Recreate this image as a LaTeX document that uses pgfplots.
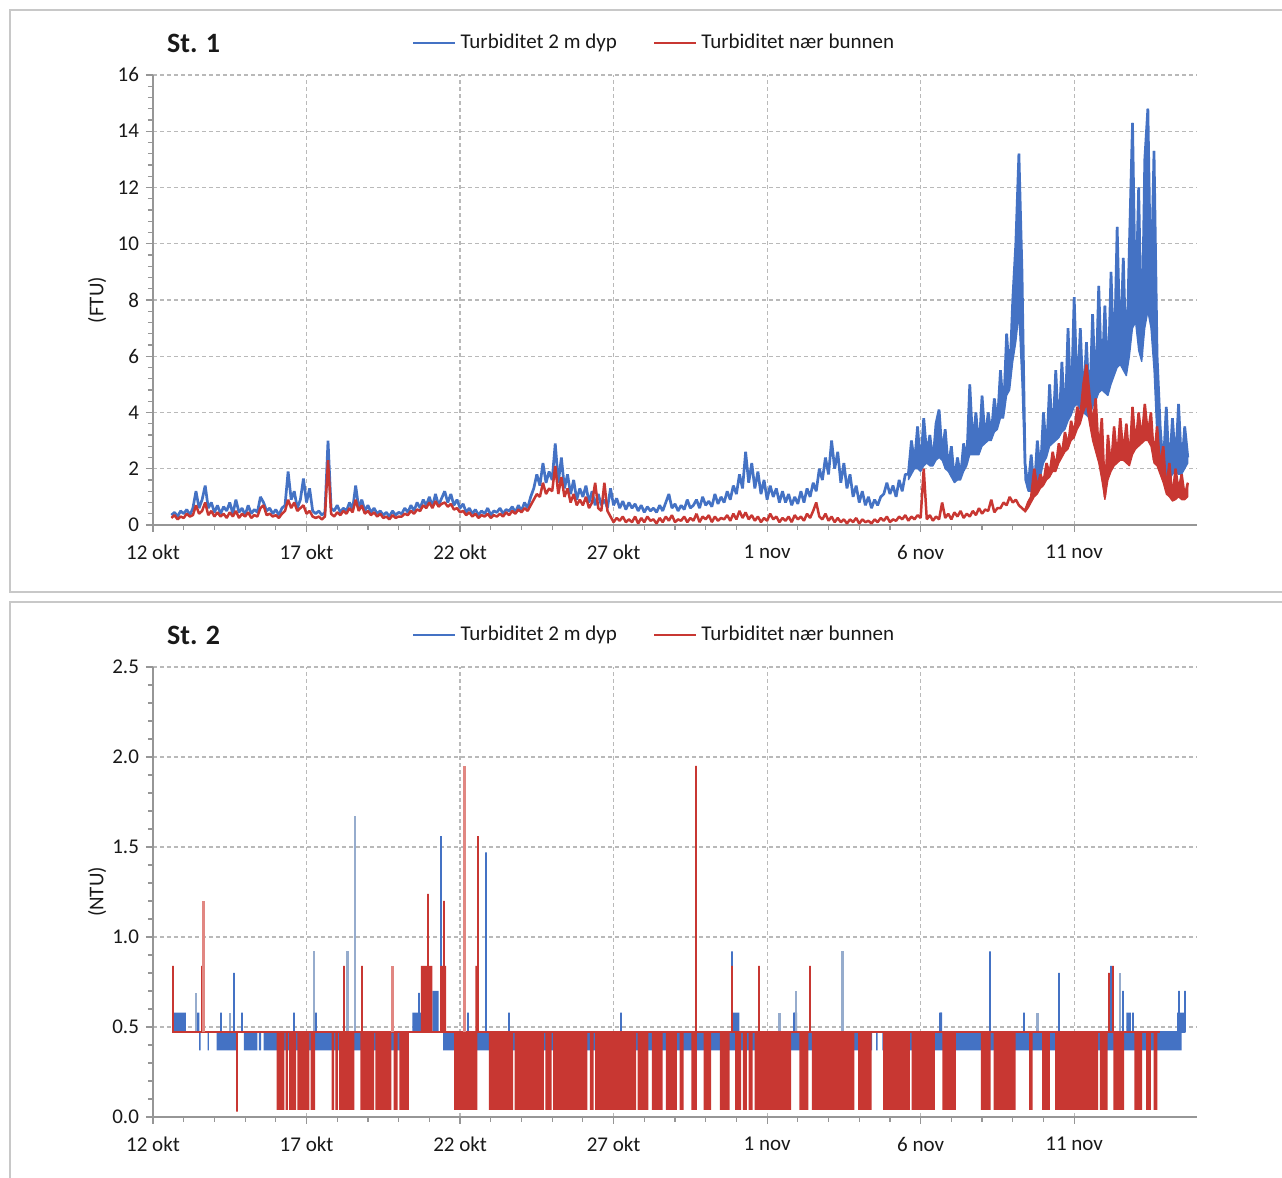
\documentclass[border=0pt]{standalone}
\usepackage{fontspec}
\setmainfont{Carlito}
\usepackage{pgfplots}
\usepackage{pgfplotstable}
\pgfplotsset{compat=1.18}

\definecolor{tblue}{RGB}{68,114,196}
\definecolor{tred}{RGB}{200,55,50}
\definecolor{paleblue}{RGB}{150,172,205}
\definecolor{palered}{RGB}{225,135,130}
\definecolor{framegray}{RGB}{200,200,200}
\definecolor{gridgray}{RGB}{185,185,185}
\definecolor{axisgray}{RGB}{150,150,150}
\definecolor{textgray}{RGB}{25,25,25}

% St. 1: time in days after 12 okt, turbidity at 2 m (B) and near the bottom (R), FTU
\pgfplotstableread{
t B R
0.6 0.35 0.25
0.7 0.45 0.35
0.8 0.3 0.2
0.9 0.5 0.3
1.0 0.4 0.25
1.1 0.55 0.4
1.2 0.35 0.3
1.3 0.6 0.35
1.4 1.2 0.7
1.5 0.6 0.4
1.6 0.9 0.5
1.7 1.4 0.8
1.8 0.6 0.35
1.9 0.8 0.5
2.0 0.45 0.3
2.1 0.7 0.45
2.2 0.4 0.3
2.3 0.65 0.4
2.4 0.5 0.25
2.5 0.8 0.45
2.6 0.4 0.3
2.7 0.9 0.5
2.8 0.45 0.25
2.9 0.6 0.4
3.0 0.35 0.3
3.1 0.7 0.45
3.2 0.4 0.25
3.3 0.55 0.35
3.4 0.45 0.3
3.5 1.0 0.6
3.6 0.8 0.7
3.7 0.5 0.35
3.8 0.6 0.4
3.9 0.4 0.3
4.0 0.55 0.35
4.1 0.35 0.25
4.2 0.6 0.4
4.3 0.7 0.5
4.4 1.9 0.9
4.5 0.9 0.6
4.6 1.2 0.8
4.7 0.6 0.5
4.8 0.9 0.6
4.9 1.65 0.7
5.0 0.8 0.4
5.1 1.3 0.5
5.2 0.5 0.3
5.3 0.4 0.25
5.4 0.5 0.3
5.5 0.35 0.2
5.6 0.45 0.3
5.7 3.0 2.3
5.8 0.6 0.4
5.9 0.5 0.3
6.0 0.7 0.45
6.1 0.45 0.35
6.2 0.6 0.5
6.3 0.5 0.4
6.4 0.8 0.6
6.5 0.55 0.45
6.6 1.4 0.9
6.7 0.6 0.5
6.8 0.9 0.7
6.9 0.5 0.4
7.0 0.7 0.5
7.1 0.45 0.35
7.2 0.6 0.45
7.3 0.4 0.3
7.4 0.5 0.4
7.5 0.35 0.25
7.6 0.45 0.3
7.7 0.3 0.2
7.8 0.5 0.35
7.9 0.35 0.25
8.0 0.45 0.3
8.1 0.4 0.3
8.2 0.6 0.4
8.3 0.45 0.35
8.4 0.7 0.5
8.5 0.5 0.4
8.6 0.8 0.55
8.7 0.6 0.5
8.8 0.9 0.7
8.9 0.7 0.6
9.0 1.0 0.8
9.1 0.65 0.6
9.2 1.1 0.85
9.3 0.7 0.65
9.4 0.95 0.75
9.5 1.2 0.8
9.6 0.8 0.65
9.7 1.1 0.75
9.8 0.7 0.55
9.9 0.9 0.6
10.0 0.6 0.45
10.1 0.75 0.5
10.2 0.45 0.35
10.3 0.6 0.45
10.4 0.4 0.3
10.5 0.55 0.4
10.6 0.35 0.25
10.7 0.5 0.35
10.8 0.4 0.3
10.9 0.6 0.4
11.0 0.35 0.25
11.1 0.5 0.35
11.2 0.45 0.3
11.3 0.6 0.4
11.4 0.4 0.3
11.5 0.55 0.45
11.6 0.5 0.35
11.7 0.65 0.5
11.8 0.45 0.4
11.9 0.7 0.55
12.0 0.5 0.45
12.1 0.8 0.6
12.2 0.6 0.5
12.3 1.0 0.7
12.4 1.3 0.9
12.5 1.8 1.1
12.6 1.4 1.0
12.7 2.2 1.5
12.8 1.5 1.1
12.9 1.9 1.3
13.0 1.6 1.2
13.1 2.9 2.1
13.2 1.5 1.1
13.3 2.4 1.7
13.4 1.3 1.0
13.5 1.8 1.3
13.6 1.1 0.8
13.7 1.6 1.1
13.8 0.9 0.7
13.9 1.3 0.9
14.0 1.0 0.7
14.1 1.4 1.0
14.2 0.8 0.6
14.3 1.2 0.8
14.4 0.7 1.5
14.5 1.1 0.6
14.6 0.7 0.5
14.7 0.9 1.5
14.8 0.6 0.5
14.9 1.3 0.3
15.0 0.7 0.1
15.1 0.95 0.25
15.2 0.6 0.15
15.3 0.85 0.3
15.4 0.55 0.1
15.5 0.8 0.2
15.6 0.6 0.1
15.7 0.75 0.3
15.8 0.5 0.05
15.9 0.7 0.25
16.0 0.45 0.1
16.1 0.65 0.3
16.2 0.5 0.15
16.3 0.6 0.2
16.4 0.45 0.05
16.5 0.7 0.25
16.6 0.5 0.1
16.7 0.8 0.3
16.8 1.1 0.15
16.9 0.6 0.35
17.0 0.75 0.1
17.1 0.5 0.2
17.2 0.7 0.15
17.3 0.55 0.3
17.4 0.9 0.1
17.5 0.6 0.25
17.6 0.7 0.15
17.7 0.9 0.4
17.8 0.6 0.1
17.9 1.0 0.3
18.0 0.7 0.2
18.1 0.85 0.35
18.2 0.65 0.1
18.3 1.1 0.3
18.4 0.75 0.15
18.5 1.0 0.25
18.6 0.8 0.2
18.7 1.2 0.35
18.8 0.9 0.15
18.9 1.4 0.4
19.0 1.1 0.2
19.1 1.8 0.5
19.2 1.3 0.25
19.3 2.6 0.45
19.4 1.5 0.2
19.5 2.2 0.35
19.6 1.3 0.15
19.7 1.9 0.3
19.8 1.1 0.1
19.9 1.6 0.25
20.0 0.9 0.15
20.1 1.4 0.4
20.2 1.0 0.2
20.3 1.3 0.3
20.4 0.8 0.1
20.5 1.2 0.25
20.6 0.8 0.15
20.7 1.1 0.3
20.8 0.7 0.1
20.9 1.0 0.35
21.0 0.75 0.2
21.1 1.2 0.3
21.2 0.8 0.15
21.3 1.3 0.4
21.4 1.0 0.25
21.5 1.5 0.5
21.6 1.2 0.8
21.7 2.0 0.3
21.8 1.6 0.2
21.9 2.4 0.4
22.0 1.8 0.15
22.1 3.0 0.3
22.2 2.0 0.1
22.3 2.6 0.25
22.4 1.5 0.1
22.5 2.2 0.2
22.6 1.3 0.05
22.7 1.8 0.2
22.8 1.0 0.1
22.9 1.4 0.25
23.0 0.8 0.05
23.1 1.2 0.2
23.2 0.7 0.1
23.3 1.0 0.15
23.4 0.6 0.05
23.5 0.9 0.2
23.6 0.7 0.1
23.7 1.0 0.25
23.8 1.1 0.15
23.9 1.5 0.3
24.0 1.1 0.1
24.1 1.4 0.2
24.2 1.0 0.15
24.3 1.6 0.3
24.4 1.2 0.2
24.5 1.8 0.35
24.6 1.8 0.15
24.7 3.0 0.3
24.8 2.2 0.2
24.9 3.5 0.35
25.0 2.0 0.25
25.1 3.8 2.0
25.2 2.5 0.2
25.3 3.2 0.35
25.4 2.2 0.15
25.5 3.6 0.3
25.6 4.1 0.2
25.7 2.5 0.8
25.8 3.4 0.25
25.9 2.0 0.4
26.0 2.8 0.2
26.1 1.6 0.45
26.2 2.4 0.3
26.3 1.7 0.5
26.4 2.9 0.25
26.5 2.2 0.4
26.6 5.0 0.3
26.7 2.8 0.5
26.8 4.0 0.35
26.9 2.6 0.6
27.0 4.6 0.4
27.1 3.0 0.55
27.2 4.0 0.5
27.3 3.2 0.9
27.4 4.5 0.45
27.5 3.6 0.6
27.6 5.5 0.6
27.7 4.0 0.8
27.8 6.8 0.7
27.9 5.2 1.0
28.0 8.0 0.8
28.1 10.0 0.9
28.2 13.2 0.7
28.3 9.0 0.6
28.4 2.2 0.5
28.5 1.3 0.8
28.6 2.5 1.0
28.7 1.2 2.0
28.8 3.0 1.3
28.9 1.8 1.8
29.0 4.0 1.5
29.1 2.5 2.2
29.2 5.0 1.8
29.3 3.0 2.6
29.4 5.5 2.0
29.5 3.2 2.9
29.6 5.8 2.5
29.7 3.5 3.3
29.8 7.0 2.8
29.9 4.0 3.7
30.0 8.1 3.2
30.1 4.5 4.2
30.2 7.0 3.8
30.3 4.2 5.0
30.4 6.5 5.7
30.5 4.0 4.6
30.6 7.5 3.5
30.7 4.5 4.5
30.8 8.5 2.5
30.9 5.0 3.8
31.0 7.8 1.0
31.1 4.8 3.2
31.2 9.0 2.0
31.3 5.5 3.5
31.4 10.6 2.3
31.5 6.0 3.8
31.6 9.5 2.5
31.7 5.5 3.6
31.8 10.0 2.2
31.9 14.3 4.2
32.0 7.5 2.8
32.1 12.0 4.0
32.2 6.0 3.0
32.3 13.0 4.3
32.4 14.8 3.2
32.5 8.0 4.0
32.6 13.3 2.3
32.7 6.0 3.5
32.8 3.5 2.0
32.9 2.0 2.8
33.0 4.2 1.2
33.1 1.8 2.2
33.2 3.8 0.9
33.3 2.2 2.0
33.4 4.3 1.2
33.5 2.0 1.8
33.6 3.5 1.0
33.7 2.4 1.5
}\stone

% St. 1, 2 m, noisy stretch: outline of the band of readings,
% highest readings forward in time, then lowest readings back again
\pgfplotstableread{
t y
24.6 1.8
24.7 3.0
24.8 2.2
24.9 3.5
25.0 2.0
25.1 3.8
25.2 2.5
25.3 3.2
25.4 2.2
25.5 3.6
25.6 4.1
25.7 2.5
25.8 3.4
25.9 2.0
26.0 2.8
26.1 1.6
26.2 2.4
26.3 1.7
26.4 2.9
26.5 2.2
26.6 5.0
26.7 2.8
26.8 4.0
26.9 2.6
27.0 4.6
27.1 3.0
27.2 4.0
27.3 3.2
27.4 4.5
27.5 3.6
27.6 5.5
27.7 4.0
27.8 6.8
27.9 5.2
28.0 8.0
28.1 10.0
28.2 13.2
28.3 9.0
28.4 2.2
28.5 1.3
28.6 2.5
28.7 1.2
28.8 3.0
28.9 1.8
29.0 4.0
29.1 2.5
29.2 5.0
29.3 3.0
29.4 5.5
29.5 3.2
29.6 5.8
29.7 3.5
29.8 7.0
29.9 4.0
30.0 8.1
30.1 4.5
30.2 7.0
30.3 4.2
30.4 6.5
30.5 4.0
30.6 7.5
30.7 4.5
30.8 8.5
30.9 5.0
31.0 7.8
31.1 4.8
31.2 9.0
31.3 5.5
31.4 10.6
31.5 6.0
31.6 9.5
31.7 5.5
31.8 10.0
31.9 14.3
32.0 7.5
32.1 12.0
32.2 6.0
32.3 13.0
32.4 14.8
32.5 8.0
32.6 13.3
32.7 6.0
32.8 3.5
32.9 2.0
33.0 4.2
33.1 1.8
33.2 3.8
33.3 2.2
33.4 4.3
33.5 2.0
33.6 3.5
33.7 2.4
33.7 2.2
33.6 2.0
33.5 1.8
33.4 1.8
33.3 1.9
33.2 1.8
33.1 1.6
33.0 1.7
32.9 1.8
32.8 2.0
32.7 3.0
32.6 5.5
32.5 7.0
32.4 7.6
32.3 7.0
32.2 5.8
32.1 6.2
32.0 7.2
31.9 7.0
31.8 6.0
31.7 5.3
31.6 5.5
31.5 5.7
31.4 5.6
31.3 5.3
31.2 5.0
31.1 4.6
31.0 4.7
30.9 4.8
30.8 4.7
30.7 4.4
30.6 4.2
30.5 3.8
30.4 3.9
30.3 4.0
30.2 4.1
30.1 4.3
30.0 4.2
29.9 3.9
29.8 3.7
29.7 3.4
29.6 3.3
29.5 3.1
29.4 3.0
29.3 2.9
29.2 2.8
29.1 2.4
29.0 2.2
28.9 1.7
28.8 1.6
28.7 1.1
28.6 1.2
28.5 1.2
28.4 1.6
28.3 5.0
28.2 7.5
28.1 6.5
28.0 5.8
27.9 4.8
27.8 4.6
27.7 3.8
27.6 3.8
27.5 3.4
27.4 3.3
27.3 3.0
27.2 3.0
27.1 2.9
27.0 2.8
26.9 2.5
26.8 2.5
26.7 2.5
26.6 2.5
26.5 2.1
26.4 1.9
26.3 1.6
26.2 1.6
26.1 1.5
26.0 1.7
25.9 1.9
25.8 2.0
25.7 2.3
25.6 2.4
25.5 2.3
25.4 2.1
25.3 2.1
25.2 2.2
25.1 2.1
25.0 1.9
24.9 2.0
24.8 2.0
24.7 1.8
24.6 1.6
}\bband

% St. 1, near the bottom, noisy stretch: outline of the band of readings
\pgfplotstableread{
t y
28.4 0.5
28.5 0.8
28.6 1.0
28.7 2.0
28.8 1.3
28.9 1.8
29.0 1.5
29.1 2.2
29.2 1.8
29.3 2.6
29.4 2.0
29.5 2.9
29.6 2.5
29.7 3.3
29.8 2.8
29.9 3.7
30.0 3.2
30.1 4.2
30.2 3.8
30.3 5.0
30.4 5.7
30.5 4.6
30.6 3.5
30.7 4.5
30.8 2.5
30.9 3.8
31.0 1.0
31.1 3.2
31.2 2.0
31.3 3.5
31.4 2.3
31.5 3.8
31.6 2.5
31.7 3.6
31.8 2.2
31.9 4.2
32.0 2.8
32.1 4.0
32.2 3.0
32.3 4.3
32.4 3.2
32.5 4.0
32.6 2.3
32.7 3.5
32.8 2.0
32.9 2.8
33.0 1.2
33.1 2.2
33.2 0.9
33.3 2.0
33.4 1.2
33.5 1.8
33.6 1.0
33.7 1.5
33.7 1.0
33.6 0.9
33.5 0.9
33.4 1.0
33.3 0.9
33.2 0.85
33.1 1.0
33.0 1.1
32.9 1.5
32.8 1.8
32.7 2.1
32.6 2.2
32.5 2.8
32.4 3.0
32.3 3.0
32.2 2.9
32.1 2.8
32.0 2.7
31.9 2.5
31.8 2.1
31.7 2.2
31.6 2.3
31.5 2.3
31.4 2.2
31.3 2.1
31.2 1.9
31.1 1.6
31.0 0.9
30.9 1.6
30.8 2.2
30.7 2.6
30.6 3.0
30.5 3.6
30.4 4.3
30.3 4.0
30.2 3.6
30.1 3.4
30.0 3.1
29.9 3.0
29.8 2.7
29.7 2.6
29.6 2.4
29.5 2.2
29.4 1.9
29.3 1.9
29.2 1.7
29.1 1.6
29.0 1.4
28.9 1.3
28.8 1.1
28.7 1.0
28.6 0.8
28.5 0.6
28.4 0.45
}\rband

\pgfplotsset{
  panel/.style={
    scale only axis, width=522pt, height=225pt,
    xmin=0, xmax=34,
    axis lines=left,
    axis line style={axisgray, line width=0.8pt, -},
    xtick={0,5,10,15,20,25,30},
    xticklabels={12 okt,17 okt,22 okt,27 okt,1 nov,6 nov,11 nov},
    minor x tick num=4, minor y tick num=4,
    tick align=outside,
    major tick length=3.5pt, minor tick length=2.5pt,
    tick style={axisgray, line width=0.6pt},
    xmajorgrids, ymajorgrids,
    major grid style={gridgray, line width=0.6pt, dash pattern=on 2pt off 1.5pt},
    tick label style={font=\fontsize{10.5}{12}\selectfont, text=textgray},
    xticklabel style={yshift=-3pt},
    ylabel style={font=\fontsize{10.5}{12}\selectfont, text=textgray,
      at={(axis description cs:-0.0536,0.5)}, anchor=center},
    legend columns=2,
    legend style={at={(0.481,1.071)}, anchor=center, draw=none, fill=none,
      font=\fontsize{10.5}{12}\selectfont, text=textgray, inner sep=0pt,
      /tikz/every even column/.append style={column sep=16pt}},
    legend image code/.code={\draw[#1] (0pt,0pt) -- (21pt,0pt);},
  },
  % rectangles of rapid flipping between two readings, one per stretch
  flipblock/.style={draw=none, unbounded coords=jump, forget plot},
  spikes/.style={line width=1pt, line join=bevel, forget plot},
}

\begin{document}
\begin{tikzpicture}
\useasboundingbox (0,0) rectangle (641pt,589pt);
\draw[framegray, line width=1pt] (641pt,584pt) -- (5pt,584pt) -- (5pt,293pt) -- (641pt,293pt);
\draw[framegray, line width=1pt] (641pt,288pt) -- (5pt,288pt) -- (5pt,0pt);

% St. 1
\begin{axis}[panel, at={(76.5pt,326.5pt)}, anchor=south west,
  ymin=0, ymax=16, ytick={0,2,...,16},
  yticklabels={0,2,4,6,8,10,12,14,16},
  ylabel={(FTU)}]
\addlegendimage{tblue, line width=1.2pt}
\addlegendentry{Turbiditet 2 m dyp}
\addlegendimage{tred, line width=1.2pt}
\addlegendentry{Turbiditet nær bunnen}
\addplot[tblue, line width=1.35pt, line join=bevel, forget plot] table[x=t, y=B] {\stone};
\addplot[fill=tblue, draw=tblue, line width=0.6pt, line join=bevel, forget plot] table {\bband} -- cycle;
\addplot[tred, line width=1.25pt, line join=bevel, forget plot] table[x=t, y=R] {\stone};
\addplot[fill=tred, draw=tred, line width=0.6pt, line join=bevel, forget plot] table {\rband} -- cycle;
\end{axis}
\node[anchor=west, font=\fontsize{14}{16}\selectfont\bfseries, text=textgray] at (80pt,567.5pt) {St. 1};

% St. 2
\begin{axis}[panel, at={(76.5pt,30.5pt)}, anchor=south west,
  ymin=0, ymax=2.5, ytick={0,0.5,...,2.5},
  yticklabels={0.0,0.5,1.0,1.5,2.0,2.5},
  ylabel={(NTU)}]
\addlegendimage{tblue, line width=1.2pt}
\addlegendentry{Turbiditet 2 m dyp}
\addlegendimage{tred, line width=1.2pt}
\addlegendentry{Turbiditet nær bunnen}
% 2 m: flipping between 0.37 and 0.47
\addplot[flipblock, fill=tblue] coordinates {
  (1.50,0.37) (1.50,0.47) (1.55,0.47) (1.55,0.37) (1.55,nan)
  (1.78,0.37) (1.78,0.47) (1.82,0.47) (1.82,0.37) (1.82,nan)
  (2.07,0.37) (2.07,0.47) (2.72,0.47) (2.72,0.37) (2.72,nan)
  (2.96,0.37) (2.96,0.47) (3.40,0.47) (3.40,0.37) (3.40,nan)
  (3.45,0.37) (3.45,0.47) (3.52,0.47) (3.52,0.37) (3.52,nan)
  (3.60,0.37) (3.60,0.47) (8.30,0.47) (8.30,0.37) (8.30,nan)
  (9.45,0.37) (9.45,0.47) (23.42,0.47) (23.42,0.37) (23.42,nan)
  (23.55,0.37) (23.55,0.47) (23.60,0.47) (23.60,0.37) (23.60,nan)
  (23.75,0.37) (23.75,0.47) (33.50,0.47) (33.50,0.37)
};
% 2 m: flipping above 0.47
\addplot[flipblock, fill=tblue] coordinates {
  (0.64,0.47) (0.64,0.58) (1.07,0.58) (1.07,0.47) (1.07,nan)
  (1.37,0.47) (1.37,0.58) (1.51,0.58) (1.51,0.47) (1.51,nan)
  (8.45,0.47) (8.45,0.58) (8.72,0.58) (8.72,0.47) (8.72,nan)
  (9.10,0.47) (9.10,0.70) (9.30,0.70) (9.30,0.47) (9.30,nan)
  (18.96,0.47) (18.96,0.58) (19.10,0.58) (19.10,0.47) (19.10,nan)
  (20.85,0.47) (20.85,0.58) (20.98,0.58) (20.98,0.47) (20.98,nan)
  (25.60,0.47) (25.60,0.58) (25.70,0.58) (25.70,0.47) (25.70,nan)
  (31.70,0.47) (31.70,0.58) (31.85,0.58) (31.85,0.47) (31.85,nan)
  (33.35,0.47) (33.35,0.58) (33.60,0.58) (33.60,0.47)
};
\addplot[tblue, spikes] coordinates {
  (0.63,0.47)
  (2.20,0.47) (2.20,0.58) (2.20,0.47)
  (2.64,0.47) (2.64,0.80) (2.64,0.47)
  (2.90,0.47) (2.90,0.58) (2.90,0.47)
  (4.60,0.47) (4.60,0.58) (4.60,0.47)
  (5.32,0.47) (5.32,0.58) (5.32,0.47)
  (8.66,0.47) (8.66,0.69) (8.66,0.47)
  (9.39,0.47) (9.39,1.56) (9.39,0.47)
  (10.26,0.47) (10.26,0.58) (10.26,0.47)
  (10.85,0.47) (10.85,1.47) (10.85,0.47)
  (11.60,0.47) (11.60,0.58) (11.60,0.47)
  (15.25,0.47) (15.25,0.58) (15.25,0.47)
  (18.85,0.47) (18.85,0.92) (18.85,0.47)
  (18.92,0.47) (18.92,0.58) (18.92,0.47)
  (20.90,0.47) (20.90,0.58) (20.90,0.47)
  (25.65,0.47) (25.65,0.58) (25.65,0.47)
  (27.25,0.47) (27.25,0.92) (27.25,0.47)
  (28.35,0.47) (28.35,0.58) (28.35,0.47)
  (29.50,0.47) (29.50,0.80) (29.50,0.47)
  (31.20,0.47) (31.20,0.84) (31.20,0.47)
  (31.60,0.47) (31.60,0.70) (31.60,0.47)
  (31.90,0.47) (31.90,0.58) (31.90,0.47)
  (33.40,0.47) (33.40,0.70) (33.40,0.47)
  (33.60,0.47) (33.60,0.70) (33.60,0.47)
};
\addplot[paleblue, spikes, line width=1.2pt, unbounded coords=jump] coordinates {
  (1.40,0.47) (1.40,0.69) (1.40,nan)
  (2.50,0.47) (2.50,0.58) (2.50,nan)
  (5.24,0.47) (5.24,0.92) (5.24,nan)
  (6.34,0.47) (6.34,0.92) (6.34,nan)
  (6.58,0.47) (6.58,1.67) (6.58,nan)
  (20.40,0.47) (20.40,0.58) (20.40,nan)
  (20.95,0.47) (20.95,0.70) (20.95,nan)
  (22.45,0.47) (22.45,0.92) (22.45,nan)
  (28.80,0.47) (28.80,0.58) (28.80,nan)
  (31.50,0.47) (31.50,0.80)
};
% near the bottom: flipping between 0.04 and 0.47
\addplot[flipblock, fill=tred] coordinates {
  (4.03,0.04) (4.03,0.47) (4.28,0.47) (4.28,0.04) (4.28,nan)
  (4.32,0.04) (4.32,0.47) (4.39,0.47) (4.39,0.04) (4.39,nan)
  (4.43,0.04) (4.43,0.47) (4.66,0.47) (4.66,0.04) (4.66,nan)
  (4.70,0.04) (4.70,0.47) (5.09,0.47) (5.09,0.04) (5.09,nan)
  (5.13,0.04) (5.13,0.47) (5.28,0.47) (5.28,0.04) (5.28,nan)
  (5.82,0.04) (5.82,0.47) (5.90,0.47) (5.90,0.04) (5.90,nan)
  (5.94,0.04) (5.94,0.47) (6.02,0.47) (6.02,0.04) (6.02,nan)
  (6.06,0.04) (6.06,0.47) (6.56,0.47) (6.56,0.04) (6.56,nan)
  (6.75,0.04) (6.75,0.47) (7.20,0.47) (7.20,0.04) (7.20,nan)
  (7.24,0.04) (7.24,0.47) (7.76,0.47) (7.76,0.04) (7.76,nan)
  (7.84,0.04) (7.84,0.47) (7.97,0.47) (7.97,0.04) (7.97,nan)
  (8.02,0.04) (8.02,0.47) (8.33,0.47) (8.33,0.04) (8.33,nan)
  (9.81,0.04) (9.81,0.47) (10.56,0.47) (10.56,0.04) (10.56,nan)
  (10.94,0.04) (10.94,0.47) (11.73,0.47) (11.73,0.04) (11.73,nan)
  (11.78,0.04) (11.78,0.47) (12.73,0.47) (12.73,0.04) (12.73,nan)
  (12.78,0.04) (12.78,0.47) (12.98,0.47) (12.98,0.04) (12.98,nan)
  (13.03,0.04) (13.03,0.47) (14.15,0.47) (14.15,0.04) (14.15,nan)
  (14.23,0.04) (14.23,0.47) (14.35,0.47) (14.35,0.04) (14.35,nan)
  (14.40,0.04) (14.40,0.47) (15.73,0.47) (15.73,0.04) (15.73,nan)
  (15.78,0.04) (15.78,0.47) (16.13,0.47) (16.13,0.04) (16.13,nan)
  (16.25,0.04) (16.25,0.47) (16.60,0.47) (16.60,0.04) (16.60,nan)
  (16.70,0.04) (16.70,0.47) (17.06,0.47) (17.06,0.04) (17.06,nan)
  (17.15,0.04) (17.15,0.47) (17.28,0.47) (17.28,0.04) (17.28,nan)
  (17.53,0.04) (17.53,0.47) (17.71,0.47) (17.71,0.04) (17.71,nan)
  (17.93,0.04) (17.93,0.47) (18.18,0.47) (18.18,0.04) (18.18,nan)
  (18.46,0.04) (18.46,0.47) (18.78,0.47) (18.78,0.04) (18.78,nan)
  (18.96,0.04) (18.96,0.47) (19.15,0.47) (19.15,0.04) (19.15,nan)
  (19.21,0.04) (19.21,0.47) (19.34,0.47) (19.34,0.04) (19.34,nan)
  (19.40,0.04) (19.40,0.47) (19.53,0.47) (19.53,0.04) (19.53,nan)
  (19.59,0.04) (19.59,0.47) (20.78,0.47) (20.78,0.04) (20.78,nan)
  (21.05,0.04) (21.05,0.47) (21.34,0.47) (21.34,0.04) (21.34,nan)
  (21.46,0.04) (21.46,0.47) (22.84,0.47) (22.84,0.04) (22.84,nan)
  (22.96,0.04) (22.96,0.47) (23.40,0.47) (23.40,0.04) (23.40,nan)
  (23.78,0.04) (23.78,0.47) (24.65,0.47) (24.65,0.04) (24.65,nan)
  (24.71,0.04) (24.71,0.47) (25.46,0.47) (25.46,0.04) (25.46,nan)
  (25.71,0.04) (25.71,0.47) (26.15,0.47) (26.15,0.04) (26.15,nan)
  (26.96,0.04) (26.96,0.47) (27.28,0.47) (27.28,0.04) (27.28,nan)
  (27.38,0.04) (27.38,0.47) (28.09,0.47) (28.09,0.04) (28.09,nan)
  (28.53,0.04) (28.53,0.47) (28.65,0.47) (28.65,0.04) (28.65,nan)
  (28.96,0.04) (28.96,0.47) (29.21,0.47) (29.21,0.04) (29.21,nan)
  (29.38,0.04) (29.38,0.47) (30.78,0.47) (30.78,0.04) (30.78,nan)
  (30.84,0.04) (30.84,0.47) (31.09,0.47) (31.09,0.04) (31.09,nan)
  (31.28,0.04) (31.28,0.47) (31.63,0.47) (31.63,0.04) (31.63,nan)
  (31.96,0.04) (31.96,0.47) (32.21,0.47) (32.21,0.04) (32.21,nan)
  (32.34,0.04) (32.34,0.47) (32.50,0.47) (32.50,0.04) (32.50,nan)
  (32.59,0.04) (32.59,0.47) (32.71,0.47) (32.71,0.04)
};
% near the bottom: flipping between 0.47 and 0.84
\addplot[flipblock, fill=tred] coordinates {
  (8.72,0.47) (8.72,0.84) (9.10,0.84) (9.10,0.47) (9.10,nan)
  (9.35,0.47) (9.35,0.84) (9.55,0.84) (9.55,0.47) (9.55,nan)
  (10.50,0.47) (10.50,0.84) (10.56,0.84) (10.56,0.47)
};
\addplot[tred, spikes] coordinates {
  (0.63,0.47)
  (0.66,0.47) (0.66,0.84) (0.66,0.47)
  (1.60,0.47) (1.60,0.84) (1.60,0.47)
  (2.73,0.47) (2.73,0.03) (2.73,0.47)
  (6.23,0.47) (6.23,0.84) (6.23,0.47)
  (6.80,0.47) (6.80,0.84) (6.80,0.47)
  (8.96,0.47) (8.96,1.24) (8.96,0.47)
  (9.48,0.47) (9.48,1.20) (9.48,0.47)
  (10.59,0.47) (10.59,1.56) (10.59,0.47)
  (17.70,0.47) (17.70,1.95) (17.70,0.47)
  (18.85,0.47) (18.85,0.84) (18.85,0.47)
  (19.75,0.47) (19.75,0.84) (19.75,0.47)
  (21.40,0.47) (21.40,0.84) (21.40,0.47)
  (31.15,0.47) (31.15,0.80) (31.15,0.47)
  (31.25,0.47) (31.25,0.84) (31.25,0.47)
  (32.80,0.47)
};
\addplot[palered, spikes, line width=1.5pt, unbounded coords=jump] coordinates {
  (1.63,0.47) (1.63,1.20) (1.63,nan)
  (7.80,0.47) (7.80,0.84) (7.80,nan)
  (10.13,0.47) (10.13,1.95)
};
\end{axis}
\node[anchor=west, font=\fontsize{14}{16}\selectfont\bfseries, text=textgray] at (80pt,271.5pt) {St. 2};
\end{tikzpicture}
\end{document}
